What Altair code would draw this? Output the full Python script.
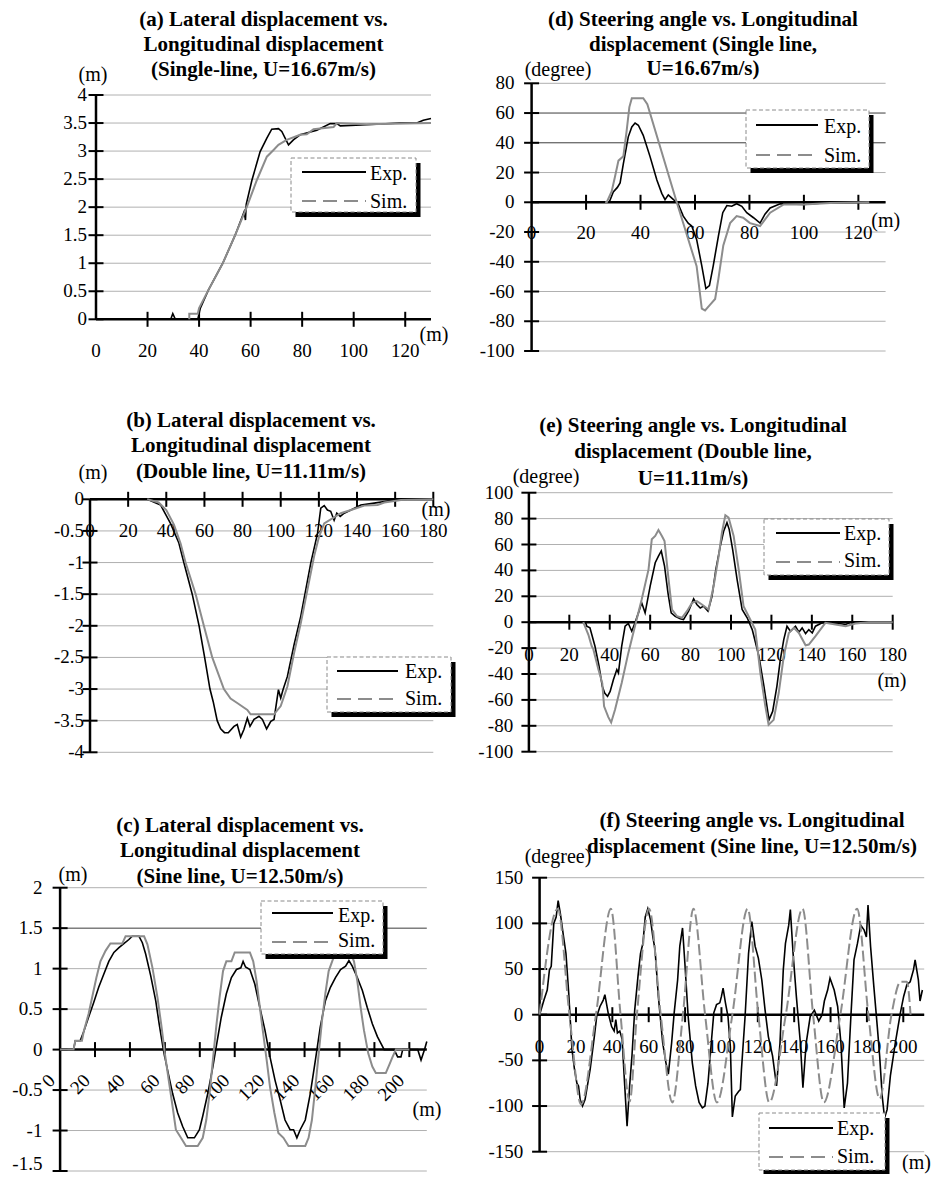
import altair as alt
import pandas as pd

FONT = "Liberation Serif"
OFF = 8            # page margin of the html page
GRID = "#b0b0b0"
DARK = "#3c3c3c"
SIMC = "#8c8c8c"

# ---------------------------------------------------------------- data
# (a) lateral displacement, single line
a_exp = [(28.5, 0), (29, 0), (29.8, 0.1), (30.8, 0), (39.5, 0), (40.5, 0.2), (43.6, 0.52), (49.2, 1.0),
         (54, 1.5), (57.5, 1.92), (58, 1.77), (58.3, 2.05), (60.5, 2.48), (63.7, 2.99), (66.3, 3.23),
         (68.2, 3.39), (70.8, 3.4), (72.1, 3.35), (74.7, 3.11), (76.6, 3.2), (79.2, 3.29), (85.7, 3.37),
         (90.9, 3.49), (93.5, 3.49), (94.8, 3.45), (105, 3.47), (118, 3.5), (124.5, 3.5), (127, 3.55),
         (130, 3.58)]
a_sim = [(36.2, 0), (36.2, 0.1), (39.5, 0.1), (40, 0.2), (43.6, 0.52), (49.2, 1.0), (54, 1.5), (58.5, 2.0),
         (62.4, 2.48), (66.3, 2.9), (68.9, 3.02), (70.8, 3.11), (74, 3.2), (79.2, 3.29), (81.8, 3.3),
         (84.4, 3.39), (92.2, 3.43), (93.5, 3.5), (105, 3.48), (130, 3.5)]

# (d) steering angle, single line
d_exp = [(28.5, 0), (30, 7), (31.5, 10), (32.5, 13), (33.7, 26), (35.5, 44), (36.8, 50.7), (38, 53.3),
         (39.2, 51.8), (41, 45), (43.5, 30.7), (46, 15), (47.8, 6), (49, 1.8), (50.2, 5), (52, 2),
         (53.9, -1.5), (55.7, -9.3), (57.5, -14), (58.8, -16), (60.6, -25), (62.5, -42.7), (64, -58),
         (65.3, -56), (66.7, -42.7), (68.6, -22.7), (70.2, -7), (71.7, -2.2), (73.5, -2.7), (75.3, -1),
         (77.2, -2.7), (79, -7), (81.5, -10.4), (83.9, -14), (85.7, -8), (87.6, -3.8), (91.3, -1),
         (100, -1.5), (107, -0.5), (122, 0)]
d_sim = [(27, 0), (27.6, 0), (29.4, 7.3), (30.6, 17), (31.9, 28), (33.7, 31), (34.9, 48), (35.9, 64),
         (36.8, 70), (41, 70), (42.5, 66), (53.3, 0), (60.6, -43), (62.5, -71.5), (63.7, -72.7),
         (65.5, -69), (67.4, -65), (68.6, -51.5), (70.4, -29), (72.9, -14), (75.3, -9.3), (77.7, -10.4),
         (80.2, -14), (83.9, -16), (87.6, -7), (92.6, -1.5), (100, -1.5), (109.6, -0.5), (124, 0)]

# (b) lateral displacement, double line
b_exp = [(30, 0), (37, -0.09), (42.2, -0.38), (46.6, -0.69), (49.2, -1.0), (53.6, -1.5), (57.2, -2.0),
         (60.1, -2.5), (62.9, -3.0), (64.6, -3.2), (66.7, -3.5), (68.5, -3.63), (70.5, -3.69), (72.5, -3.69),
         (75.5, -3.59), (77.2, -3.56), (79, -3.76), (80.7, -3.64), (82.5, -3.46), (83.9, -3.59), (86, -3.48),
         (88.6, -3.43), (90.4, -3.48), (92.6, -3.63), (94.8, -3.51), (96.5, -3.48), (98.8, -3.01),
         (100, -3.14), (101.2, -3.01), (103.5, -2.8), (107, -2.3), (110.5, -1.85), (115.8, -1.0),
         (119.3, -0.54), (121, -0.14), (122.8, -0.1), (124.5, -0.17), (126.2, -0.19), (128, -0.33),
         (129.4, -0.22), (131.2, -0.27), (133.3, -0.22), (136.8, -0.17), (142, -0.09), (149, -0.06),
         (157.8, -0.02), (166.5, 0), (180, 0)]
b_sim = [(30, 0), (36, -0.05), (40, -0.17), (44, -0.4), (47.5, -0.7), (50.1, -1.0), (55.4, -1.5),
         (59.7, -2.0), (64.1, -2.5), (70.2, -3.0), (73.7, -3.15), (77.2, -3.22), (82.5, -3.33), (84.2, -3.4),
         (96.5, -3.4), (100, -3.27), (103.5, -2.96), (107, -2.43), (110.5, -1.96), (114, -1.43),
         (117.5, -0.9), (120.1, -0.59), (122.8, -0.38), (127.1, -0.3), (131.5, -0.22), (136.8, -0.17),
         (143.8, -0.1), (150.8, -0.09), (154.3, -0.05), (163, -0.01), (180, 0)]

# (e) steering angle, double line
e_exp = [(28, 0), (28.6, -3), (30.2, -4.4), (32.7, -18.6), (34.7, -34), (36.3, -49.5), (37.5, -54.7),
         (38.9, -57.3), (40.2, -53.4), (41.8, -44.4), (43.5, -36.6), (44.3, -39.2), (45.9, -18.6),
         (47.6, -3.1), (49.2, -1), (50.9, -7), (52.5, -0.5), (54.2, 7.2), (55.8, 15), (57.5, 7.2),
         (60, 27.9), (62.5, 45.9), (64.1, 51), (65.5, 55), (67.1, 43.4), (68.8, 22.7), (70.4, 7.2),
         (72.4, 4.6), (74.9, 2.6), (76.5, 2), (79, 8.5), (81.5, 18), (83.1, 13.7), (84.8, 11), (86.4, 12.4),
         (88.6, 8.5), (90.6, 20), (92.5, 40.8), (94.7, 58.8), (96.4, 70.5), (98, 76.9), (99.1, 71.7),
         (100.8, 56.3), (103, 33), (105.5, 9.8), (108, 3.4), (110.5, -5.7), (113.8, -26.3), (116.3, -49.5),
         (118.8, -75.4), (120.6, -68.9), (122.7, -49.5), (124.4, -28.9), (126.1, -13.4), (127.7, -3.1),
         (129.4, -7), (131.9, -3.1), (133.6, -7.7), (135.2, -4.4), (136.9, -8.8), (138.5, -5.7),
         (140.2, -8.3), (141.8, -3.1), (145.1, -0.5), (153.4, -1), (156.7, -1.8), (159.2, 0), (165, 0)]
e_sim = [(26.9, 0), (29.4, -9.5), (31.1, -18.6), (31.9, -21), (34.4, -36.6), (36.3, -47), (37.2, -65),
         (39.3, -73.3), (40.7, -77.4), (42.6, -67.6), (45.9, -47), (49.2, -23.7), (52.5, -3), (55.8, 17.5),
         (59.2, 40.8), (60.8, 64), (62.5, 66.6), (64.1, 71.2), (65.8, 66.6), (67.1, 62.7), (69.1, 33),
         (70.8, 9.8), (73.3, 4.6), (75.7, 3.4), (78.2, 8.5), (80.7, 15), (83.1, 16.3), (85.6, 13.7),
         (88.9, 9.8), (91.4, 27.9), (93.9, 51), (95.5, 69.2), (97.2, 82.6), (98.8, 80.8), (101.3, 66.6),
         (103.8, 40.8), (106.2, 12.4), (108.7, 4.6), (112, -5.7), (114.5, -39), (117, -65), (118.6, -79.2),
         (121.1, -75.4), (123.6, -54.7), (126.1, -26.3), (128.6, -8.3), (131.1, -4.4), (133.6, -8.3),
         (136.9, -17.8), (138.5, -17.3), (141.8, -10.8), (146.7, -0.5), (151.7, -1.8), (156.7, -3.1),
         (161.6, -1), (168.2, 0), (180, 0)]

# (c) lateral displacement, sine line
c_exp = [(0, 0), (7.7, 0), (8.7, 0.11), (11.5, 0.11), (13.5, 0.22), (16.3, 0.4), (19.2, 0.58), (22.1, 0.77),
         (25, 0.93), (27.9, 1.09), (30.8, 1.2), (33.7, 1.26), (36.5, 1.31), (39.4, 1.36), (41.3, 1.4),
         (45.2, 1.4), (47.1, 1.32), (49, 1.18), (51.9, 0.91), (54.8, 0.6), (56.7, 0.32), (59.2, -0.01),
         (61.5, -0.25), (64.4, -0.54), (67.3, -0.78), (70.2, -0.95), (73.1, -1.09), (76.9, -1.09),
         (79.8, -0.99), (81.7, -0.82), (84.6, -0.54), (87.5, -0.21), (90, 0.11), (92.3, 0.4), (95.2, 0.69),
         (98.1, 0.89), (101, 0.99), (103.5, 1.01), (104.8, 1.09), (106.2, 1.02), (108.7, 0.99),
         (111.5, 0.81), (114.4, 0.52), (117.3, 0.24), (120.2, -0.09), (123.1, -0.38), (126, -0.62),
         (128.8, -0.87), (131.7, -0.99), (133.7, -0.99), (135.6, -1.09), (137.5, -0.99), (140.4, -0.87),
         (143.3, -0.54), (146.2, -0.13), (149, 0.28), (151.9, 0.6), (154.8, 0.77), (157.7, 0.89),
         (160.6, 0.99), (163.5, 1.03), (165.4, 1.1), (167.3, 1.03), (170.2, 0.89), (173.1, 0.73),
         (175.9, 0.52), (178.8, 0.32), (181.7, 0.16), (185.6, 0), (191.3, 0), (193.3, -0.09),
         (195.2, -0.09), (196.2, 0), (204.8, 0), (206.7, -0.13), (208.7, 0), (210, 0.1)]
c_sim = [(0, 0), (7.7, 0), (8.7, 0.11), (12.5, 0.11), (13.5, 0.22), (16.3, 0.44), (18.3, 0.64), (20.8, 0.89),
         (23.1, 1.09), (26, 1.22), (28.8, 1.31), (35.6, 1.31), (37.5, 1.4), (48.1, 1.4), (50, 1.3),
         (52.9, 1.01), (55.8, 0.64), (58.1, 0.28), (60, -0.05), (62.5, -0.42), (64.4, -0.7), (66.3, -0.99),
         (69.2, -1.09), (72.1, -1.19), (78.8, -1.19), (81.7, -1.09), (83.7, -0.87), (85.6, -0.54),
         (87.5, -0.13), (89.4, 0.28), (91.3, 0.64), (93.3, 0.97), (95.2, 1.09), (98.1, 1.09), (100, 1.2),
         (108.7, 1.2), (110.6, 1.09), (112.5, 0.85), (114.4, 0.52), (116.3, 0.2), (118.3, -0.13),
         (120.2, -0.46), (122.7, -0.78), (125, -1.03), (127.9, -1.09), (130.8, -1.19), (140.4, -1.19),
         (142.3, -1.09), (144.2, -0.87), (146.2, -0.46), (148.1, -0.05), (150, 0.36), (151.9, 0.69),
         (153.8, 0.97), (155.8, 1.09), (157.7, 1.2), (166.3, 1.2), (168.3, 1.09), (170.2, 0.85),
         (172.1, 0.52), (174, 0.24), (176.5, -0.05), (178.8, -0.21), (180.8, -0.29), (186.5, -0.29),
         (188.5, -0.19), (190.4, -0.09), (192.3, 0), (200, 0)]

# (f) steering angle, sine line
f_exp = [(0, 0), (2.4, 16), (4.2, 27), (5.4, 49), (6.4, 53), (7.8, 100), (9.1, 107), (10.2, 125), (11.4, 111),
         (13.2, 85), (14.5, 67), (16, 24), (17.8, -38), (19.2, -60), (20.5, -75), (21.4, -78), (22.3, -93),
         (23.6, -100), (25, -93), (27.8, -60), (30.1, -24), (31.4, -2), (33.2, 9), (35, 16), (35.9, 22),
         (37.7, 2), (39.6, -13), (41, -18), (41.9, -5.5), (42.8, -20), (44.1, -18), (45.4, -27), (46.5, -67),
         (48.1, -122), (49.5, -78), (50.8, -45), (52.3, 5), (54.1, 42), (55.5, 67), (56.8, 78), (58.1, 107),
         (59.5, 116), (61, 104), (62.3, 85), (63.5, 71), (65.3, 20), (67.7, -31), (69.5, -53), (70.8, -65),
         (72.6, -31), (74, 2), (75.9, 38), (77.1, 75), (78.6, 95), (79.9, 56), (81.7, -2), (84, -53),
         (85.8, -78), (87.7, -96), (89.5, -102), (90.9, -100), (92.6, -75), (94.4, -31), (95.8, 2),
         (97.3, 11), (99.1, 13), (100, 20), (100.9, 29), (102.2, 13), (103.6, -2), (104.9, -35), (106, -112),
         (107.6, -89), (109.4, -84), (110.4, -82), (111, -60), (113, -2), (114.9, 67), (116.7, 102),
         (118.5, 75), (120.3, 62), (122.2, 38), (124, 5), (125.8, -24), (128.1, -45), (130.3, -78),
         (132.2, -31), (134, 49), (135.2, 78), (137, 98), (137.9, 115), (139.4, 67), (141.2, 20),
         (143.4, -31), (144.8, -80), (146.6, -31), (148.8, -2), (151.1, 5), (153.5, -7), (155.4, 0),
         (156.6, 15), (158.4, 27), (159.7, 40), (162, 27), (163.9, 9), (165.7, -31), (167.5, -102),
         (169.3, -75), (171.1, -5), (172.9, 60), (174.8, 78), (176.6, 98), (178.4, 93), (179.7, 85),
         (180.6, 120), (182, 75), (183.8, 31), (185.7, -13), (187, -45), (188.4, -89), (189.7, -113),
         (191.1, -104), (192.9, -67), (195.6, -31), (198.4, 2), (200.2, 20), (202, 33), (203.8, 36),
         (205.6, 49), (206.5, 60), (208.3, 38), (209.2, 15), (210.5, 27)]
f_sim = [(0, 0), (10, 116), (16.4, 0), (22.8, -98), (31, 0), (39.2, 116), (44.5, 0), (49.5, -95), (53.5, 0),
         (60.2, 116), (66.6, 0), (73, -96), (78.8, 0), (84.6, 116), (91, 0), (97.5, -96), (106, 0),
         (114.4, 116), (120.3, 0), (126.3, -96), (135.4, 0), (144.6, 116), (150.4, 0), (156.3, -96),
         (165.4, 0), (174.6, 116), (180.8, 0), (187, -92), (193.5, 0), (198.5, 36), (202, 36), (204, 0)]

# tick values
a_xticks = [0, 20, 40, 60, 80, 100, 120]
a_yticks = [0, 0.5, 1, 1.5, 2, 2.5, 3, 3.5, 4]
d_xticks = [0, 20, 40, 60, 80, 100, 120]
d_yticks = [80, 60, 40, 20, 0, -20, -40, -60, -80, -100]
b_xticks = [0, 20, 40, 60, 80, 100, 120, 140, 160, 180]
b_yticks = [0, -0.5, -1, -1.5, -2, -2.5, -3, -3.5, -4]
e_xticks = [0, 20, 40, 60, 80, 100, 120, 140, 160, 180]
e_yticks = [100, 80, 60, 40, 20, 0, -20, -40, -60, -80, -100]
c_xticks = [0, 20, 40, 60, 80, 100, 120, 140, 160, 180, 200]
c_yticks = [2, 1.5, 1, 0.5, 0, -0.5, -1, -1.5]
f_xticks = [0, 20, 40, 60, 80, 100, 120, 140, 160, 180, 200]
f_yticks = [150, 100, 50, 0, -50, -100, -150]

titles = {
    "a": ["(a) Lateral displacement vs.", "Longitudinal displacement", "(Single-line, U=16.67m/s)"],
    "d": ["(d) Steering angle vs. Longitudinal", "displacement (Single line,", "U=16.67m/s)"],
    "b": ["(b) Lateral displacement vs.", "Longitudinal displacement", "(Double line, U=11.11m/s)"],
    "e": ["(e) Steering angle vs. Longitudinal", "displacement (Double line,", "U=11.11m/s)"],
    "c": ["(c) Lateral displacement vs.", "Longitudinal displacement", "(Sine line, U=12.50m/s)"],
    "f": ["(f) Steering angle vs. Longitudinal", "displacement (Sine line, U=12.50m/s)"],
}
y_units = {"a": "(m)", "d": "(degree)", "b": "(m)", "e": "(degree)", "c": "(m)", "f": "(degree)"}
x_unit = "(m)"
legend_labels = ["Exp.", "Sim."]

SERIES = {"a": (a_exp, a_sim), "d": (d_exp, d_sim), "b": (b_exp, b_sim),
          "e": (e_exp, e_sim), "c": (c_exp, c_sim), "f": (f_exp, f_sim)}
TICKS = {"a": (a_xticks, a_yticks), "d": (d_xticks, d_yticks), "b": (b_xticks, b_yticks),
         "e": (e_xticks, e_yticks), "c": (c_xticks, c_yticks), "f": (f_xticks, f_yticks)}

# ---------------------------------------------------------------- layout (page pixels)
LAYOUT = {
    "a": dict(xdom=[0, 130], xpx=[96, 431], ydom=[0, 4], ypx=[319.3, 95], ygap=9, xdy=38, dark=[],
              title=(263.5, 25.5, 25.3), yunit=(93, 81, "center"), xunit=(434, 341, "center"),
              leg=dict(box=(291, 416, 158, 212), lx=(302, 366), ey=172, sy=201, tx=370, eb=180, sb=208)),
    "d": dict(xdom=[0, 130], xpx=[531.6, 885.6], ydom=[-100, 80], ypx=[351, 83.3], ygap=17, xdy=37,
              dark=[60, 40], title=(703, 26, 24.6), yunit=(558, 76, "center"), xunit=(885.7, 227, "center"),
              leg=dict(box=(746, 869, 110, 168), lx=(756, 818), ey=125, sy=155, tx=824, eb=133, sb=162)),
    "b": dict(xdom=[0, 180], xpx=[90, 433.3], ydom=[-4, 0], ypx=[752.3, 499.3], ygap=6, xdy=38, dark=[],
              title=(251, 426.7, 25.8), yunit=(93, 479, "center"), xunit=(436, 515.5, "center"),
              leg=dict(box=(327, 451, 657, 712), lx=(337, 398), ey=671, sy=699, tx=405, eb=678, sb=705)),
    "e": dict(xdom=[0, 180], xpx=[528.9, 892.7], ydom=[-100, 100], ypx=[751.7, 492.7], ygap=15.7, xdy=38.3,
              dark=[], title=(693, 431.7, 26.6), yunit=(546, 482.7, "center"), xunit=(892, 686.7, "center"),
              leg=dict(box=(764, 889, 519, 575), lx=(776, 840), ey=533, sy=562, tx=844, eb=540, sb=567)),
    "c": dict(xdom=[0, 210], xpx=[60.1, 426.8], ydom=[-1.5, 2], ypx=[1171, 887.7], ygap=17.7, xdy=None,
              dark=[1.5], title=(240, 831.7, 25.8), yunit=(73, 881, "center"), xunit=(427, 1116, "center"),
              leg=dict(box=(261, 383, 901, 954), lx=(272, 333), ey=913, sy=942, tx=338, eb=922, sb=947)),
    "f": dict(xdom=[0, 211.5], xpx=[539.6, 924.2], ydom=[-150, 150], ypx=[1151.7, 877.7], ygap=16.3,
              xdy=38.3, dark=[], title=(752, 826.7, 26.6), yunit=(558, 863.3, "center"),
              xunit=(931, 1168.5, "right"),
              leg=dict(box=(759, 885, 1113, 1170), lx=(769, 833), ey=1128, sy=1157, tx=837, eb=1135, sb=1163)),
}
SIM_DASH = {"f": [11, 4]}
SIM_INTERP = {"f": "monotone"}
EDGE_LIFT = {"c": 7.5}   # lift the lowest y label so it stays inside the page


def fmt(v):
    return "%g" % v


def px(v):
    return v - OFF


ONE = pd.DataFrame({"k": [0]})
layers = []

for key in ["a", "d", "b", "e", "c", "f"]:
    L = LAYOUT[key]
    xs = alt.Scale(domain=L["xdom"], range=[px(L["xpx"][0]), px(L["xpx"][1])], nice=False, zero=False)
    ys = alt.Scale(domain=L["ydom"], range=[px(L["ypx"][0]), px(L["ypx"][1])], nice=False, zero=False)
    xticks, yticks = TICKS[key]
    exp, sim = SERIES[key]

    def X(f):
        return alt.X(f, type="quantitative", scale=xs, axis=None)

    def Y(f):
        return alt.Y(f, type="quantitative", scale=ys, axis=None)

    # gridlines
    g = pd.DataFrame({"v": yticks, "x0": L["xdom"][0], "x1": L["xdom"][1]})
    g["c"] = [DARK if v in L["dark"] else GRID for v in yticks]
    layers.append(alt.Chart(g).mark_rule(strokeWidth=1).encode(
        x=X("x0"), x2="x1", y=Y("v"), color=alt.Color("c:N", scale=None, legend=None)))

    # axis lines
    layers.append(alt.Chart(pd.DataFrame({"x": [0], "y0": [L["ydom"][0]], "y1": [L["ydom"][1]]}))
                  .mark_rule(color="black", strokeWidth=2.5).encode(x=X("x"), y=Y("y0"), y2="y1"))
    layers.append(alt.Chart(pd.DataFrame({"y": [0], "x0": [L["xdom"][0]], "x1": [L["xdom"][1]]}))
                  .mark_rule(color="black", strokeWidth=2.5).encode(x=X("x0"), x2="x1", y=Y("y")))

    # ticks crossing the axes
    layers.append(alt.Chart(pd.DataFrame({"v": [t for t in xticks if t != 0], "y": 0}))
                  .mark_tick(orient="vertical", size=15, thickness=2, color="black", opacity=1)
                  .encode(x=X("v"), y=Y("y")))
    layers.append(alt.Chart(pd.DataFrame({"v": yticks, "x": 0}))
                  .mark_tick(orient="horizontal", size=15, thickness=2, color="black", opacity=1)
                  .encode(x=X("x"), y=Y("v")))

    # tick labels
    xl = pd.DataFrame({"v": xticks, "y": 0, "t": [fmt(v) for v in xticks]})
    if L["xdy"] is None:
        xmark = alt.Chart(xl).mark_text(font=FONT, fontSize=19, color="black", angle=315, align="right",
                                        baseline="middle", dx=-25.5, dy=14)
    else:
        xmark = alt.Chart(xl).mark_text(font=FONT, fontSize=19, color="black", align="center",
                                        baseline="alphabetic", dy=L["xdy"])
    layers.append(xmark.encode(x=X("v"), y=Y("y"), text="t:N"))

    lift = EDGE_LIFT.get(key, 0)
    ymin = min(yticks)
    groups = [([v for v in yticks if not (lift and v == ymin)], 0)]
    if lift:
        groups.append(([ymin], -lift))
    for vals, ddy in groups:
        yl = pd.DataFrame({"v": vals, "x": 0, "t": [fmt(v) for v in vals]})
        layers.append(alt.Chart(yl).mark_text(font=FONT, fontSize=19, color="black", align="right",
                                              baseline="middle", dx=-L["ygap"], dy=ddy)
                      .encode(x=X("x"), y=Y("v"), text="t:N"))

    # series: Exp. first, Sim. drawn over it
    edf = pd.DataFrame(exp, columns=["x", "y"])
    edf["i"] = range(len(edf))
    layers.append(alt.Chart(edf).mark_line(color="black", strokeWidth=1.6)
                  .encode(x=X("x"), y=Y("y"), order="i:Q"))
    sdf = pd.DataFrame(sim, columns=["x", "y"])
    sdf["i"] = range(len(sdf))
    kw = dict(color=SIMC, strokeWidth=2, interpolate=SIM_INTERP.get(key, "linear"))
    if key in SIM_DASH:
        kw["strokeDash"] = SIM_DASH[key]
    layers.append(alt.Chart(sdf).mark_line(**kw).encode(x=X("x"), y=Y("y"), order="i:Q"))

    # legend (shadowed, dashed box)
    lg = L["leg"]
    x0, x1, y0, y1 = lg["box"]
    layers.append(alt.Chart(ONE).mark_rect(color="black").encode(
        x=alt.value(px(x0 + 4.5)), x2=alt.value(px(x1 + 4.5)),
        y=alt.value(px(y0 + 5)), y2=alt.value(px(y1 + 5))))
    layers.append(alt.Chart(ONE).mark_rect(fill="white", stroke="#8a8a8a", strokeWidth=1,
                                           strokeDash=[4, 2.5]).encode(
        x=alt.value(px(x0)), x2=alt.value(px(x1)), y=alt.value(px(y0)), y2=alt.value(px(y1))))
    layers.append(alt.Chart(ONE).mark_rule(color="black", strokeWidth=2).encode(
        x=alt.value(px(lg["lx"][0])), x2=alt.value(px(lg["lx"][1])), y=alt.value(px(lg["ey"]))))
    layers.append(alt.Chart(ONE).mark_rule(color=SIMC, strokeWidth=2, strokeDash=[14, 7]).encode(
        x=alt.value(px(lg["lx"][0])), x2=alt.value(px(lg["lx"][1])), y=alt.value(px(lg["sy"]))))
    for lab, by in zip(legend_labels, [lg["eb"], lg["sb"]]):
        layers.append(alt.Chart(ONE).mark_text(font=FONT, fontSize=20, color="black", align="left",
                                               baseline="alphabetic").encode(
            x=alt.value(px(lg["tx"])), y=alt.value(px(by)), text=alt.value(lab)))

    # title and unit labels
    cx, by, lh = L["title"]
    layers.append(alt.Chart(ONE).mark_text(font=FONT, fontSize=21, fontWeight="bold", color="black",
                                           align="center", baseline="alphabetic", lineHeight=lh).encode(
        x=alt.value(px(cx)), y=alt.value(px(by)), text=alt.value(titles[key])))
    ux, uy, ua = L["yunit"]
    layers.append(alt.Chart(ONE).mark_text(font=FONT, fontSize=20, color="black", align=ua,
                                           baseline="alphabetic").encode(
        x=alt.value(px(ux)), y=alt.value(px(uy)), text=alt.value(y_units[key])))
    ux, uy, ua = L["xunit"]
    layers.append(alt.Chart(ONE).mark_text(font=FONT, fontSize=20, color="black", align=ua,
                                           baseline="alphabetic").encode(
        x=alt.value(px(ux)), y=alt.value(px(uy)), text=alt.value(x_unit)))

chart = (alt.layer(*layers)
         .resolve_scale(x="independent", y="independent")
         .properties(width=924, height=1166, padding=0, background="white",
                     autosize=alt.AutoSizeParams(type="none"))
         .configure_view(stroke=None))

chart.save("out.html", embed_options={"renderer": "svg", "actions": False})
